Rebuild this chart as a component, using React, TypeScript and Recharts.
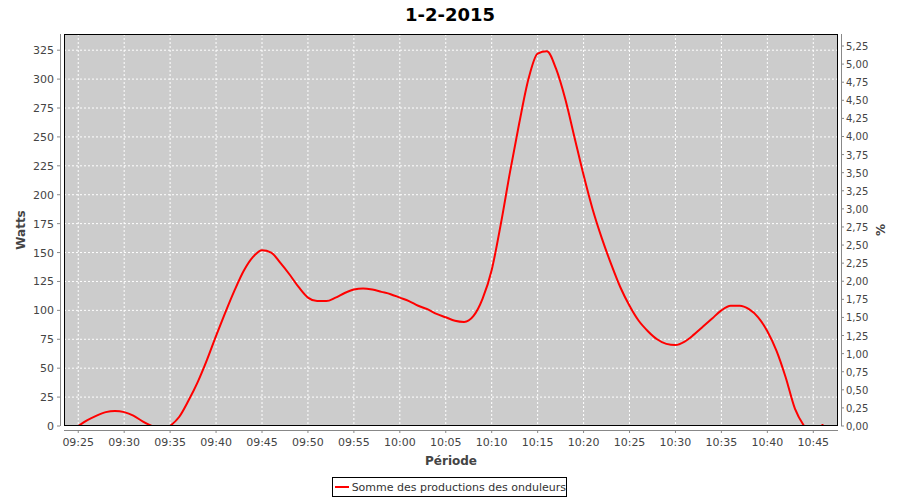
import React from "react";
import {
  LineChart,
  Line,
  XAxis,
  YAxis,
  CartesianGrid,
  Legend,
} from "recharts";

// minutes after 09:25
const minuteOffsets: number[] = [
  0, 1, 2, 3, 4, 5, 6, 7, 8, 9, 10, 11, 12, 13, 14, 15, 16, 17, 18, 19, 20,
  21, 22, 23, 24, 25, 26, 27, 28, 29, 30, 31, 32, 33, 34, 35, 36, 37, 38, 39,
  40, 41, 42, 43, 44, 45, 46, 47, 48, 49, 50, 51, 52, 53, 54, 55, 56, 57, 58,
  59, 60, 61, 62, 63, 64, 65, 66, 67, 68, 69, 70, 71, 72, 73, 74, 75, 76, 77,
  78, 79, 80, 81,
];

const watts: (number | null)[] = [
  0, 5, 9, 12, 13, 12, 9, 4, 0, null, 0, 8, 22, 38, 57, 78, 98, 117, 134, 146,
  152, 150, 141, 131, 120, 111, 108, 108, 111, 115, 118, 119, 118, 116, 114,
  111, 108, 104, 101, 97, 94, 91, 90, 95, 110, 135, 175, 220, 262, 300, 322,
  324, 309, 283, 250, 217, 187, 162, 140, 120, 104, 91, 82, 75, 71, 70, 73, 79,
  86, 93, 100, 104, 104, 101, 94, 82, 65, 42, 15, 0, null, 0,
];

const xTicks: number[] = [0, 5, 10, 15, 20, 25, 30, 35, 40, 45, 50, 55, 60, 65, 70, 75, 80];
const wattTicks: number[] = [0, 25, 50, 75, 100, 125, 150, 175, 200, 225, 250, 275, 300, 325];
const pctTicks: number[] = [
  0, 0.25, 0.5, 0.75, 1, 1.25, 1.5, 1.75, 2, 2.25, 2.5, 2.75, 3, 3.25, 3.5, 3.75,
  4, 4.25, 4.5, 4.75, 5, 5.25,
];

const title = "1-2-2015";
const seriesName = "Somme des productions des onduleurs";

const data = minuteOffsets.map((t, i) => ({ t, w: watts[i] }));

const FONT = "DejaVu Sans";
const TICK_COLOR = "#444444";
const AXIS_COLOR = "#888888";

const fmtTime = (t: number) => {
  const total = 9 * 60 + 25 + t;
  const h = Math.floor(total / 60);
  const m = total % 60;
  return `${String(h).padStart(2, "0")}:${String(m).padStart(2, "0")}`;
};

const XTick = (props: any) => {
  const { x, y, payload } = props;
  return (
    <g>
      <line x1={x} x2={x} y1={y + 4} y2={y + 7} stroke={AXIS_COLOR} />
      <text
        x={x}
        y={y + 20}
        textAnchor="middle"
        fontFamily={FONT}
        fontSize={11}
        fill={TICK_COLOR}
      >
        {fmtTime(payload.value)}
      </text>
    </g>
  );
};

const LeftTick = (props: any) => {
  const { x, y, payload } = props;
  return (
    <g>
      <line x1={x - 7} x2={x - 4} y1={y} y2={y} stroke={AXIS_COLOR} />
      <text
        x={x - 10}
        y={y + 4}
        textAnchor="end"
        fontFamily={FONT}
        fontSize={11}
        fill={TICK_COLOR}
      >
        {payload.value}
      </text>
    </g>
  );
};

const RightTick = (props: any) => {
  const { x, y, payload } = props;
  return (
    <g>
      <line x1={x + 3} x2={x + 6} y1={y} y2={y} stroke={AXIS_COLOR} />
      <text
        x={x + 8}
        y={y + 4}
        textAnchor="start"
        fontFamily={FONT}
        fontSize={10}
        fill={TICK_COLOR}
      >
        {payload.value.toFixed(2).replace(".", ",")}
      </text>
    </g>
  );
};

const IsolatedDot = (props: any) => {
  const { cx, cy, index } = props;
  const prev = index > 0 ? watts[index - 1] : null;
  const next = index < watts.length - 1 ? watts[index + 1] : null;
  if (watts[index] == null || prev != null || next != null || cx == null) {
    return <g key={`d${index}`} />;
  }
  return <rect key={`d${index}`} x={cx - 1} y={cy - 2} width={2} height={2} fill="#ff0000" />;
};

const LegendBox = () => (
  <div
    style={{
      position: "absolute",
      left: 332,
      top: 477,
      width: 235,
      height: 20,
      border: "1px solid #000",
      background: "#fff",
      boxSizing: "border-box",
      display: "flex",
      alignItems: "center",
      fontFamily: FONT,
      fontSize: 11,
      color: "#333",
      whiteSpace: "nowrap",
    }}
  >
    <div style={{ width: 15, height: 2, background: "#ff0000", marginLeft: 2, marginRight: 3 }} />
    <span>{seriesName}</span>
  </div>
);

export default function App() {
  // plot area: x 64..838, y 34..426
  return (
    <div style={{ position: "absolute", left: 0, top: 0, width: 900, height: 500, background: "#fff" }}>
      <LineChart
        width={900}
        height={500}
        data={data}
        margin={{ top: 34, right: 0, bottom: 44, left: 0 }}
      >
        <CartesianGrid
          yAxisId="left"
          stroke="#ffffff"
          strokeDasharray="2 2"
          fill="#cccccc"
          fillOpacity={1}
          horizontalValues={wattTicks}
          verticalValues={xTicks}
        />
        <XAxis
          dataKey="t"
          type="number"
          domain={[-1.55, 82.69]}
          ticks={xTicks}
          allowDataOverflow
          axisLine={false}
          tickLine={false}
          tickSize={0}
          tickMargin={0}
          height={30}
          interval={0}
          tick={<XTick />}
        />
        <YAxis
          yAxisId="left"
          orientation="left"
          type="number"
          domain={[0, 339]}
          ticks={wattTicks}
          allowDataOverflow
          axisLine={false}
          tickLine={false}
          tickSize={0}
          tickMargin={0}
          width={64}
          interval={0}
          tick={<LeftTick />}
        />
        <YAxis
          yAxisId="right"
          orientation="right"
          type="number"
          domain={[0, 5.416]}
          ticks={pctTicks}
          allowDataOverflow
          axisLine={false}
          tickLine={false}
          tickSize={0}
          tickMargin={0}
          width={62}
          interval={0}
          tick={<RightTick />}
        />
        <Line
          yAxisId="left"
          dataKey="w"
          name={seriesName}
          type="monotone"
          stroke="#ff0000"
          strokeWidth={2}
          dot={<IsolatedDot />}
          activeDot={false}
          connectNulls={false}
          isAnimationActive={false}
        />
        <Legend content={() => null} />
      </LineChart>
      {/* frame, offset axis lines, titles */}
      <svg
        width={900}
        height={500}
        style={{ position: "absolute", left: 0, top: 0, pointerEvents: "none" }}
      >
        <rect x={64.5} y={34.5} width={773} height={391} fill="none" stroke="#000" strokeWidth={1} />
        <line x1={60.5} x2={60.5} y1={34} y2={426} stroke={AXIS_COLOR} />
        <line x1={841.5} x2={841.5} y1={34} y2={426} stroke={AXIS_COLOR} />
        <line x1={64} x2={838} y1={430.5} y2={430.5} stroke={AXIS_COLOR} />
        <text
          x={450}
          y={21}
          textAnchor="middle"
          fontFamily={FONT}
          fontWeight="bold"
          fontSize={18}
          fill="#000"
        >
          {title}
        </text>
        <text
          x={451}
          y={465}
          textAnchor="middle"
          fontFamily={FONT}
          fontWeight="bold"
          fontSize={12}
          fill="#444"
        >
          Période
        </text>
        <text
          transform="translate(25,230) rotate(-90)"
          textAnchor="middle"
          fontFamily={FONT}
          fontWeight="bold"
          fontSize={12}
          fill="#444"
        >
          Watts
        </text>
        <text
          transform="translate(885,230) rotate(-90)"
          textAnchor="middle"
          fontFamily={FONT}
          fontWeight="bold"
          fontSize={12}
          fill="#444"
        >
          %
        </text>
      </svg>
      <LegendBox />
    </div>
  );
}
